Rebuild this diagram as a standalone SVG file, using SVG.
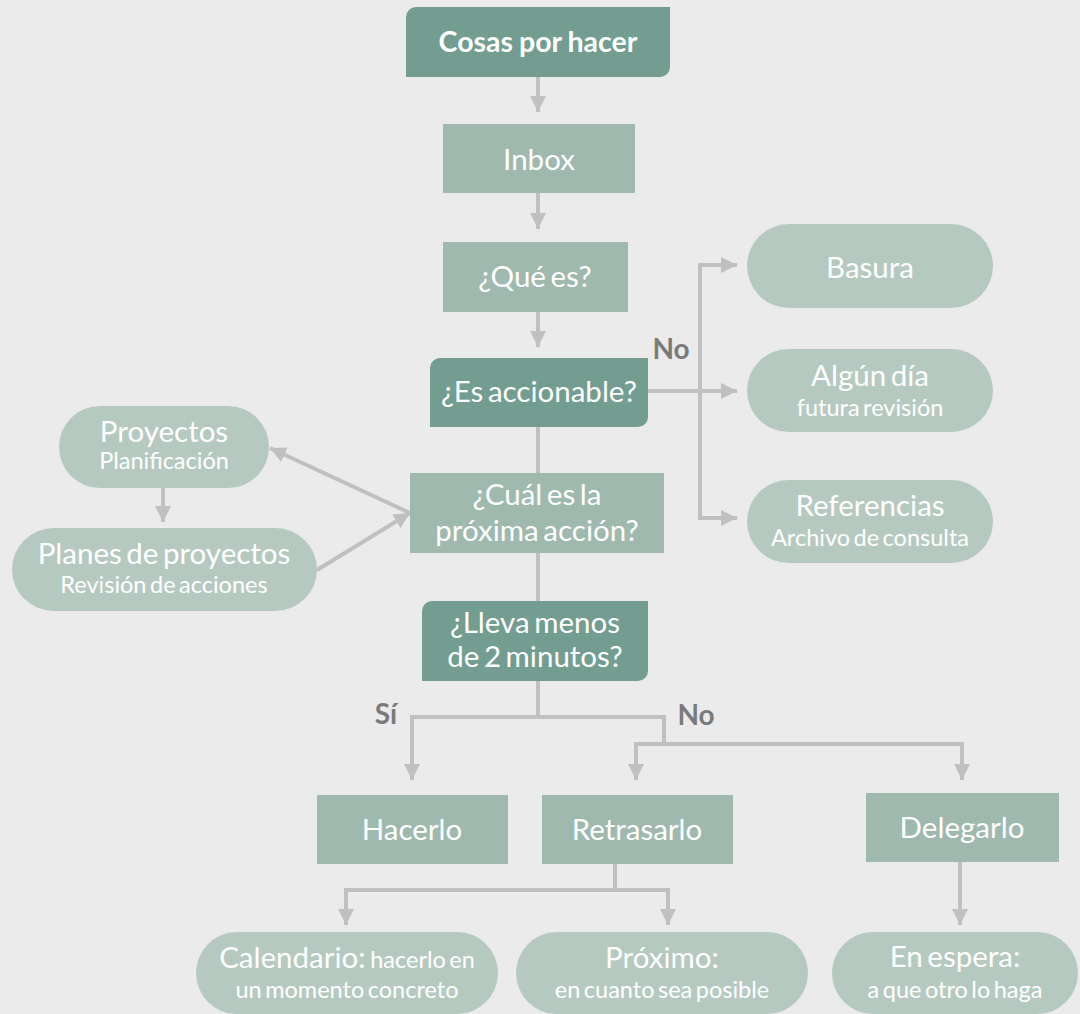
<svg xmlns="http://www.w3.org/2000/svg" width="1080" height="1014" viewBox="0 0 1080 1014">
<defs>
<style>
.t{font-family:Lato,"Liberation Sans",sans-serif;fill:#fff;text-anchor:middle;font-size:29.5px;word-spacing:-3px}
.s{font-size:23.5px;word-spacing:-2.5px}
.b{font-weight:bold;font-size:28.5px;word-spacing:-1px}
.lbl{font-family:Lato,"Liberation Sans",sans-serif;fill:#7a7a7a;font-weight:bold;font-size:28px;text-anchor:middle}
.dark{fill:#739d90}
.mid{fill:#9fb9af}
.light{fill:#b6c9c1}
.c{fill:none;stroke:#c0c0c0;stroke-width:4}
.a{marker-end:url(#ah)}
</style>
<marker id="ah" viewBox="0 0 16 16" refX="16" refY="8" markerWidth="16" markerHeight="16" markerUnits="userSpaceOnUse" orient="auto">
<path d="M0,0 L16,8 L0,16 Z" fill="#c0c0c0"/>
</marker>
</defs>
<rect width="1080" height="1014" fill="#ebebeb"/>
<g id="connectors">
<path class="c a" d="M538,77 V112"/>
<path class="c a" d="M538,193 V229"/>
<path class="c a" d="M538,312 V347"/>
<path class="c a" d="M648,391 H737"/>
<path class="c a" d="M700,391 V265 H737"/>
<path class="c a" d="M700,391 V518 H737"/>
<path class="c" d="M538,427 V473"/>
<path class="c a" d="M410,513 L270,448"/>
<path class="c a" d="M317,570 L410,513"/>
<path class="c a" d="M163,488 V522"/>
<path class="c" d="M538,553 V601"/>
<path class="c" d="M538,681 V717"/>
<path class="c a" d="M538,717 H412 V780"/>
<path class="c" d="M538,717 H664 V744"/>
<path class="c a" d="M664,744 H636 V780"/>
<path class="c a" d="M664,744 H962 V780"/>
<path class="c" d="M615,864 V890"/>
<path class="c a" d="M615,890 H346 V925"/>
<path class="c a" d="M615,890 H668 V925"/>
<path class="c a" d="M960,862 V925"/>
</g>
<g id="labels">
<text class="lbl" x="671" y="359">No</text>
<text class="lbl" x="386" y="724">Sí</text>
<text class="lbl" x="696" y="725">No</text>
</g>
<g id="n-cosas">
<path class="dark" d="M416,7 H670 V67 A10,10 0 0 1 660,77 H406 V17 A10,10 0 0 1 416,7 Z"/>
<text class="t b" x="538" y="52">Cosas por hacer</text>
</g>
<g id="n-inbox">
<rect class="mid" x="443" y="124" width="192" height="69"/>
<text class="t" x="539" y="170">Inbox</text>
</g>
<g id="n-quees">
<rect class="mid" x="443" y="242" width="185" height="70"/>
<text class="t" x="535" y="287">¿Qué es?</text>
</g>
<g id="n-accionable">
<path class="dark" d="M440,358 H648 V417 A10,10 0 0 1 638,427 H430 V368 A10,10 0 0 1 440,358 Z"/>
<text class="t" x="539" y="402">¿Es accionable?</text>
</g>
<g id="n-basura">
<rect class="light" x="747" y="224" width="246" height="84" rx="42"/>
<text class="t" x="870" y="278">Basura</text>
</g>
<g id="n-algun">
<rect class="light" x="747" y="349" width="246" height="83" rx="41.5"/>
<text class="t" x="870" y="386">Algún día</text>
<text class="t s" x="870" y="416">futura revisión</text>
</g>
<g id="n-referencias">
<rect class="light" x="747" y="480" width="246" height="83" rx="41.5"/>
<text class="t" x="870" y="516">Referencias</text>
<text class="t s" x="870" y="546">Archivo de consulta</text>
</g>
<g id="n-proyectos">
<rect class="light" x="59" y="406" width="210" height="82" rx="41"/>
<text class="t" x="164" y="442">Proyectos</text>
<text class="t s" x="164" y="469">Planificación</text>
</g>
<g id="n-planes">
<rect class="light" x="12" y="528" width="305" height="83" rx="41.5"/>
<text class="t" x="164" y="564">Planes de proyectos</text>
<text class="t s" x="164" y="593">Revisión de acciones</text>
</g>
<g id="n-cual">
<rect class="mid" x="410" y="473" width="254" height="80"/>
<text class="t" x="537" y="505">¿Cuál es la</text>
<text class="t" x="537" y="541">próxima acción?</text>
</g>
<g id="n-lleva">
<path class="dark" d="M432,601 H648 V671 A10,10 0 0 1 638,681 H422 V611 A10,10 0 0 1 432,601 Z"/>
<text class="t" x="535" y="633">¿Lleva menos</text>
<text class="t" x="535" y="667">de 2 minutos?</text>
</g>
<g id="n-hacerlo">
<rect class="mid" x="317" y="795" width="191" height="69"/>
<text class="t" x="412" y="840">Hacerlo</text>
</g>
<g id="n-retrasarlo">
<rect class="mid" x="542" y="795" width="191" height="69"/>
<text class="t" x="637" y="840">Retrasarlo</text>
</g>
<g id="n-delegarlo">
<rect class="mid" x="866" y="793" width="193" height="69"/>
<text class="t" x="962" y="838">Delegarlo</text>
</g>
<g id="n-calendario">
<rect class="light" x="196" y="932" width="302" height="82" rx="41"/>
<text class="t" x="347" y="968">Calendario: <tspan class="s">hacerlo en</tspan></text>
<text class="t s" x="347" y="998">un momento concreto</text>
</g>
<g id="n-proximo">
<rect class="light" x="516" y="932" width="292" height="82" rx="41"/>
<text class="t" x="662" y="968">Próximo:</text>
<text class="t s" x="662" y="998">en cuanto sea posible</text>
</g>
<g id="n-espera">
<rect class="light" x="832" y="932" width="246" height="82" rx="41"/>
<text class="t" x="955" y="967">En espera:</text>
<text class="t s" x="955" y="998">a que otro lo haga</text>
</g>
</svg>
